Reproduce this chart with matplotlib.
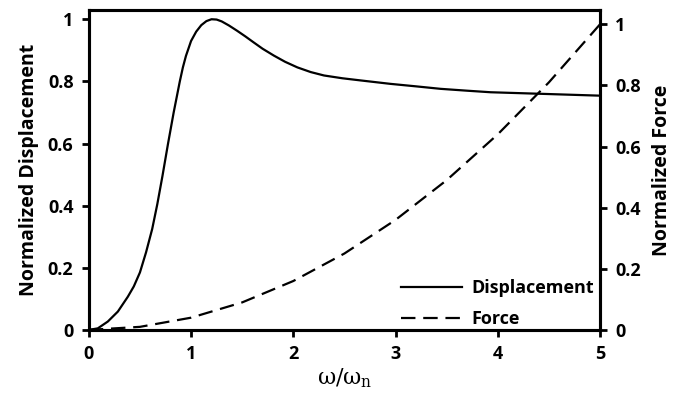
import matplotlib
matplotlib.use('Agg')
import matplotlib.pyplot as plt

# =====[ Data ]=====
freq_disp = [0, 0.088, 0.186, 0.284, 0.382, 0.44, 0.5, 0.56, 0.62, 0.67,
             0.72, 0.775, 0.83, 0.89, 0.92, 0.95, 1.0, 1.05, 1.1, 1.15, 1.2,
             1.25, 1.3, 1.37, 1.45, 1.53, 1.61, 1.7, 1.81, 1.92, 2.04, 2.17,
             2.3, 2.48, 2.66, 2.95, 3.2, 3.44, 3.7, 3.93, 4.42, 5.0]
displacement = [0, 0.005, 0.027, 0.059, 0.107, 0.14, 0.185, 0.25, 0.325,
                0.405, 0.495, 0.6, 0.7, 0.8, 0.845, 0.882, 0.93, 0.96, 0.981,
                0.994, 1.0, 0.999, 0.993, 0.98, 0.963, 0.945, 0.926, 0.905,
                0.883, 0.863, 0.845, 0.83, 0.819, 0.81, 0.803, 0.792, 0.784,
                0.776, 0.77, 0.765, 0.760, 0.754]

freq_force = [0, 0.5, 1.0, 1.5, 2.0, 2.5, 3.0, 3.5, 4.0, 4.5, 5.0]
force = [0, 0.01, 0.04, 0.09, 0.16, 0.25, 0.36, 0.49, 0.64, 0.81, 1.0]

x_ticks = [0, 1, 2, 3, 4, 5]
y_ticks = [0, 0.2, 0.4, 0.6, 0.8, 1.0]
y_ticklabels = ['0', '0.2', '0.4', '0.6', '0.8', '1']

# =====[ Style ]=====
plt.rcParams['font.family'] = ['Open Sans', 'DejaVu Sans']
plt.rcParams['font.weight'] = 'bold'

fig = plt.figure(figsize=(6.78, 3.97), dpi=100)
ax1 = fig.add_axes([0.131, 0.169, 0.754, 0.806])
ax2 = ax1.twinx()

disp_line, = ax1.plot(freq_disp, displacement, color='black', lw=1.6,
                      label='Displacement')
force_line, = ax2.plot(freq_force, force, color='black', lw=1.6,
                       dashes=(6.5, 3.5), label='Force')

ax1.set_xlim(0, 5)
ax1.set_ylim(0, 1.03)
ax2.set_ylim(0, 1.047)

ax1.set_xticks(x_ticks)
ax1.set_xticklabels([str(t) for t in x_ticks])
ax1.set_yticks(y_ticks)
ax1.set_yticklabels(y_ticklabels)
ax2.set_yticks(y_ticks)
ax2.set_yticklabels(y_ticklabels)

for ax in (ax1, ax2):
    for s in ax.spines.values():
        s.set_linewidth(2.2)
    ax.tick_params(width=2, length=5, labelsize=13, direction='out', pad=6)

ax1.set_ylabel('Normalized Displacement', fontsize=14, fontweight='bold',
               labelpad=6)
ax2.set_ylabel('Normalized Force', fontsize=14, fontweight='bold',
               labelpad=8)
ax1.set_xlabel(r'$\mathregular{\omega/\omega_n}$', fontsize=16, labelpad=2,
               family='DejaVu Serif', fontweight='normal')

ax2.legend(handles=[disp_line, force_line], loc='lower right',
           bbox_to_anchor=(1.02, -0.045), frameon=False,
           prop={'size': 13, 'weight': 'bold'},
           handlelength=3.4, handletextpad=0.5, labelspacing=0.72)

fig.savefig('out.png', dpi=100)
